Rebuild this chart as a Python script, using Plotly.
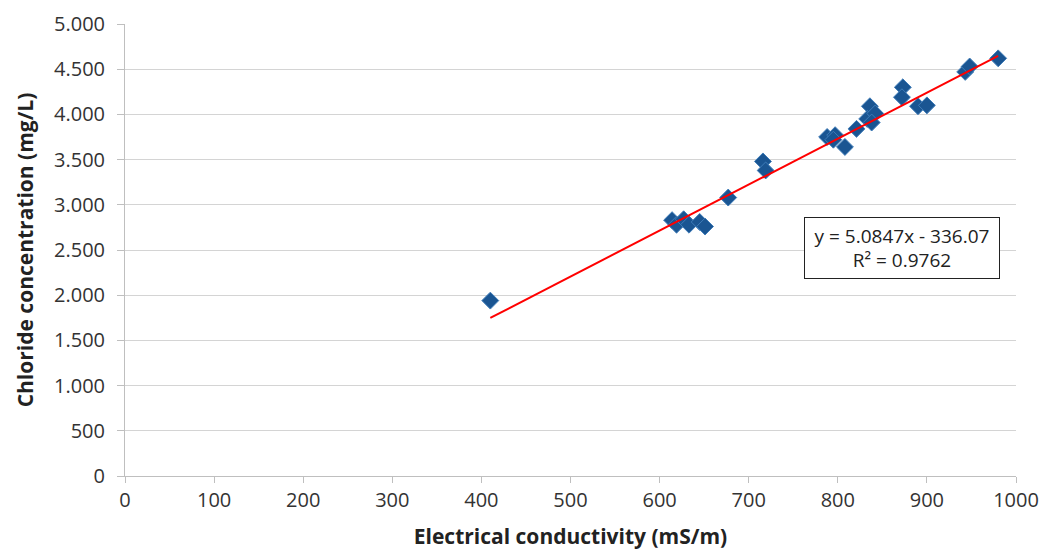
import plotly.graph_objects as go

# Electrical conductivity (mS/m) and chloride concentration (mg/L) samples
conductivity = [410, 614, 619, 627, 633, 645, 651, 677, 716, 719,
                788, 797, 795, 808, 821, 836, 833, 842, 838,
                873, 872, 890, 900, 943, 948, 980]
chloride = [1940, 2830, 2780, 2840, 2780, 2810, 2760, 3080, 3480, 3380,
            3750, 3770, 3720, 3640, 3840, 4090, 3950, 4010, 3910,
            4300, 4190, 4090, 4100, 4470, 4530, 4620]

# Linear trendline coefficients
slope = 5.0847
intercept = -336.07
r_squared = 0.9762

x_ticks = [0, 100, 200, 300, 400, 500, 600, 700, 800, 900, 1000]
y_ticks = [0, 500, 1000, 1500, 2000, 2500, 3000, 3500, 4000, 4500, 5000]
y_tick_text = ["0", "500", "1.000", "1.500", "2.000", "2.500", "3.000",
               "3.500", "4.000", "4.500", "5.000"]

x_fit = [min(conductivity), max(conductivity)]
y_fit = [slope * v + intercept for v in x_fit]

font_family = "Open Sans, DejaVu Sans, sans-serif"

fig = go.Figure()
fig.add_trace(go.Scatter(
    x=conductivity, y=chloride, mode="markers",
    marker=dict(symbol="diamond", size=13, color="#1a5592",
                line=dict(color="#3f7cb8", width=1)),
    showlegend=False,
))
fig.add_trace(go.Scatter(
    x=x_fit, y=y_fit, mode="lines",
    line=dict(color="#ff0000", width=2),
    showlegend=False,
))

fig.add_annotation(
    xref="paper", yref="paper", x=0.872, y=0.505,
    xanchor="center", yanchor="middle",
    text=f"y = {slope}x - {abs(intercept)}<br>R² = {r_squared}",
    showarrow=False, align="center",
    font=dict(family=font_family, size=19, color="#222222"),
    bgcolor="white", bordercolor="#222222", borderwidth=1,
    width=192, height=58,
)

fig.update_layout(
    width=1040, height=550,
    margin=dict(l=125, r=24, t=24, b=74),
    paper_bgcolor="white", plot_bgcolor="white",
    font=dict(family=font_family, size=19, color="#333333"),
    xaxis=dict(
        range=[0, 1000], tickvals=x_ticks, automargin=False,
        showgrid=False, zeroline=False,
        showline=True, linecolor="#bfbfbf", linewidth=1,
        ticks="outside", ticklen=6, tickcolor="#bfbfbf",
        tickfont=dict(size=20),
        title=dict(text="<b>Electrical conductivity (mS/m)</b>",
                   font=dict(size=21, color="#222222"), standoff=18),
    ),
    yaxis=dict(
        range=[0, 5000], tickvals=y_ticks, ticktext=y_tick_text,
        automargin=False,
        showgrid=True, gridcolor="#d4d4d4", gridwidth=1,
        zeroline=False,
        showline=True, linecolor="#bfbfbf", linewidth=1,
        ticks="outside", ticklen=7, tickcolor="#bfbfbf",
        tickfont=dict(size=20), ticklabelstandoff=8,
        title=dict(text="<b>Chloride concentration (mg/L)</b>",
                   font=dict(size=21, color="#222222"), standoff=14),
    ),
)

fig.write_html("out.html")
